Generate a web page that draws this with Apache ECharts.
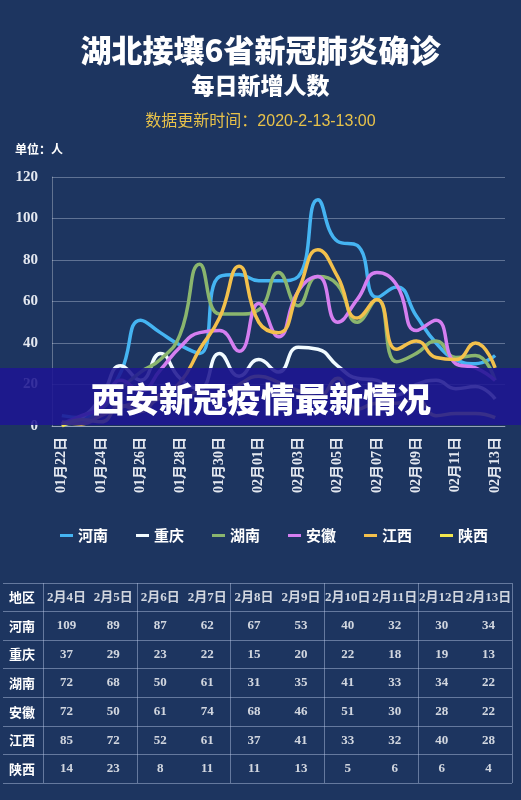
<!DOCTYPE html>
<html>
<head>
<meta charset="utf-8">
<script src="https://cdn.jsdelivr.net/npm/echarts@6/dist/echarts.min.js"></script>
<style>
html,body{margin:0;padding:0;background:#1d3560;}
#c{width:521px;height:800px;}
</style>
</head>
<body>
<div id="c"></div>
<script>
// ---- data ----
const dates = ['01月22日','01月23日','01月24日','01月25日','01月26日','01月27日','01月28日','01月29日','01月30日','01月31日','02月01日','02月02日','02月03日','02月04日','02月05日','02月06日','02月07日','02月08日','02月09日','02月10日','02月11日','02月12日','02月13日'];
const provinces = ['河南','重庆','湖南','安徽','江西','陕西'];
const henan     = [5, 4, 12, 26, 51, 45, 39, 35, 72, 73, 70, 70, 72, 109, 89, 87, 62, 67, 53, 40, 32, 30, 34];
const chongqing = [1, 4, 14, 29, 22, 35, 23, 18, 35, 24, 32, 26, 38, 37, 29, 23, 22, 15, 20, 22, 18, 19, 13];
const hunan     = [1, 2, 8, 18, 26, 32, 44, 78, 54, 54, 56, 74, 58, 72, 68, 50, 61, 31, 35, 41, 33, 34, 22];
const anhui     = [1, 5, 9, 22, 17, 27, 38, 45, 46, 36, 59, 43, 65, 72, 50, 61, 74, 68, 46, 51, 30, 28, 22];
const jiangxi   = [2, 1, 5, 9, 12, 15, 21, 37, 52, 77, 50, 45, 65, 85, 72, 52, 61, 37, 41, 33, 32, 40, 28];
const shaanxi   = [0, 3, 2, 10, 7, 13, 11, 17, 14, 20, 24, 21, 17, 14, 23, 8, 11, 11, 13, 5, 6, 6, 4];
const tableDates = ['2月4日','2月5日','2月6日','2月7日','2月8日','2月9日','2月10日','2月11日','2月12日','2月13日'];
const tableHead = '地区';
const yTicks = [0, 20, 40, 60, 80, 100, 120];
const colors = ['#45b4f2','#f2fbff','#8ab56e','#d57ef0','#f3c04c','#f2e64e'];

const seriesValues = [henan, chongqing, hunan, anhui, jiangxi, shaanxi];
const tableStart = dates.length - tableDates.length;
const rowCats = [tableHead].concat(provinces);

// table cells built from the series values
const headCells = tableDates.map(d => [d, tableHead, d]);
const valueCells = [];
provinces.forEach((p, pi) => {
  tableDates.forEach((d, di) => {
    valueCells.push([d, p, seriesValues[pi][tableStart + di]]);
  });
});

const serif = '"Liberation Serif","DejaVu Serif","Noto Sans CJK SC",serif';
const sans = '"Noto Sans CJK SC","Noto Sans",sans-serif';
const lineCol = 'rgba(190,205,235,0.45)';

const chart = echarts.init(document.getElementById('c'));
chart.setOption({
  backgroundColor: '#1d3560',
  animation: false,
  color: colors,
  title: [
    {text: '湖北接壤6省新冠肺炎确诊', left: 'center', top: 35, padding: 0,
     textStyle: {color: '#ffffff', fontSize: 31, fontWeight: 900, fontFamily: sans}},
    {text: '每日新增人数', left: 'center', top: 74, padding: 0,
     textStyle: {color: '#ffffff', fontSize: 23, fontWeight: 900, fontFamily: sans}},
    {text: '数据更新时间：2020-2-13-13:00', left: 'center', top: 114, padding: 0,
     textStyle: {color: '#e8c24a', fontSize: 16, fontWeight: 'normal', fontFamily: '"Liberation Sans","Noto Sans CJK SC",sans-serif'}},
    {text: '单位：人', left: 15, top: 143, padding: 0,
     textStyle: {color: '#ffffff', fontSize: 12, fontWeight: 'bold', fontFamily: sans}}
  ],
  legend: {
    data: provinces, left: 55, top: 523, icon: 'rect', itemWidth: 13, itemHeight: 3, itemGap: 28,
    textStyle: {color: '#ffffff', fontSize: 15, fontWeight: 'bold', fontFamily: sans}
  },
  grid: [
    {left: 52, right: 16, top: 177, bottom: 374},
    {left: 43, right: 9, top: 583, bottom: 17},
    {left: 3, width: 40, top: 583, bottom: 17}
  ],
  xAxis: [
    {type: 'category', data: dates, gridIndex: 0, boundaryGap: true,
     axisLine: {show: true, lineStyle: {color: 'rgba(255,255,255,0.35)'}},
     axisTick: {show: false},
     axisLabel: {interval: 1, rotate: 90, margin: 11, color: '#e4e8f0', fontSize: 14, fontWeight: 'bold', fontFamily: serif}},
    {type: 'category', data: tableDates, gridIndex: 1,
     axisLine: {show: false}, axisTick: {show: false}, axisLabel: {show: false},
     splitLine: {show: true, lineStyle: {color: lineCol, width: 1}}},
    {type: 'category', data: [tableHead], gridIndex: 2, show: false}
  ],
  yAxis: [
    {type: 'value', gridIndex: 0, min: yTicks[0], max: yTicks[yTicks.length - 1], interval: yTicks[1] - yTicks[0],
     axisLine: {show: true, lineStyle: {color: 'rgba(255,255,255,0.3)'}},
     axisTick: {show: false},
     axisLabel: {margin: 14, color: '#e4e8f0', fontSize: 15, fontWeight: 'bold', fontFamily: serif},
     splitLine: {lineStyle: {color: 'rgba(220,230,245,0.35)', width: 1}}},
    {type: 'category', data: rowCats, gridIndex: 1, inverse: true,
     axisLine: {show: false}, axisTick: {show: false},
     axisLabel: {margin: 21, align: 'center', color: '#ffffff', fontSize: 13, fontWeight: 'bold', fontFamily: sans},
     splitLine: {show: true, lineStyle: {color: lineCol, width: 1}}},
    {type: 'category', data: rowCats, gridIndex: 2, inverse: true,
     axisLine: {show: false}, axisTick: {show: false}, axisLabel: {show: false},
     splitLine: {show: true, lineStyle: {color: lineCol, width: 1}}}
  ],
  graphic: [
    {type: 'rect', shape: {x: 0, y: 368, width: 521, height: 57}, style: {fill: 'rgba(30,22,146,0.88)'}, z: 100},
    {type: 'text', x: 261, y: 399, z: 101,
     style: {text: '西安新冠疫情最新情况', fill: '#ffffff', fontSize: 34, fontWeight: 900, fontFamily: sans, align: 'center', verticalAlign: 'middle'}}
  ],
  series: provinces.map((p, i) => ({
    name: p, type: 'line', xAxisIndex: 0, yAxisIndex: 0, data: seriesValues[i],
    smooth: true, showSymbol: false, symbol: 'none',
    lineStyle: {width: 3.5, color: colors[i]}, itemStyle: {color: colors[i]}
  })).concat([
    {type: 'scatter', xAxisIndex: 1, yAxisIndex: 1, symbolSize: 0, data: headCells, silent: true,
     label: {show: true, position: 'inside', formatter: p => p.value[2], color: '#ffffff', fontSize: 13, fontWeight: 'bold', fontFamily: serif}},
    {type: 'scatter', xAxisIndex: 1, yAxisIndex: 1, symbolSize: 0, data: valueCells, silent: true,
     label: {show: true, position: 'inside', formatter: p => p.value[2], color: '#ffffff', fontSize: 13, fontWeight: 'bold', fontFamily: serif}}
  ])
});
</script>
</body>
</html>
